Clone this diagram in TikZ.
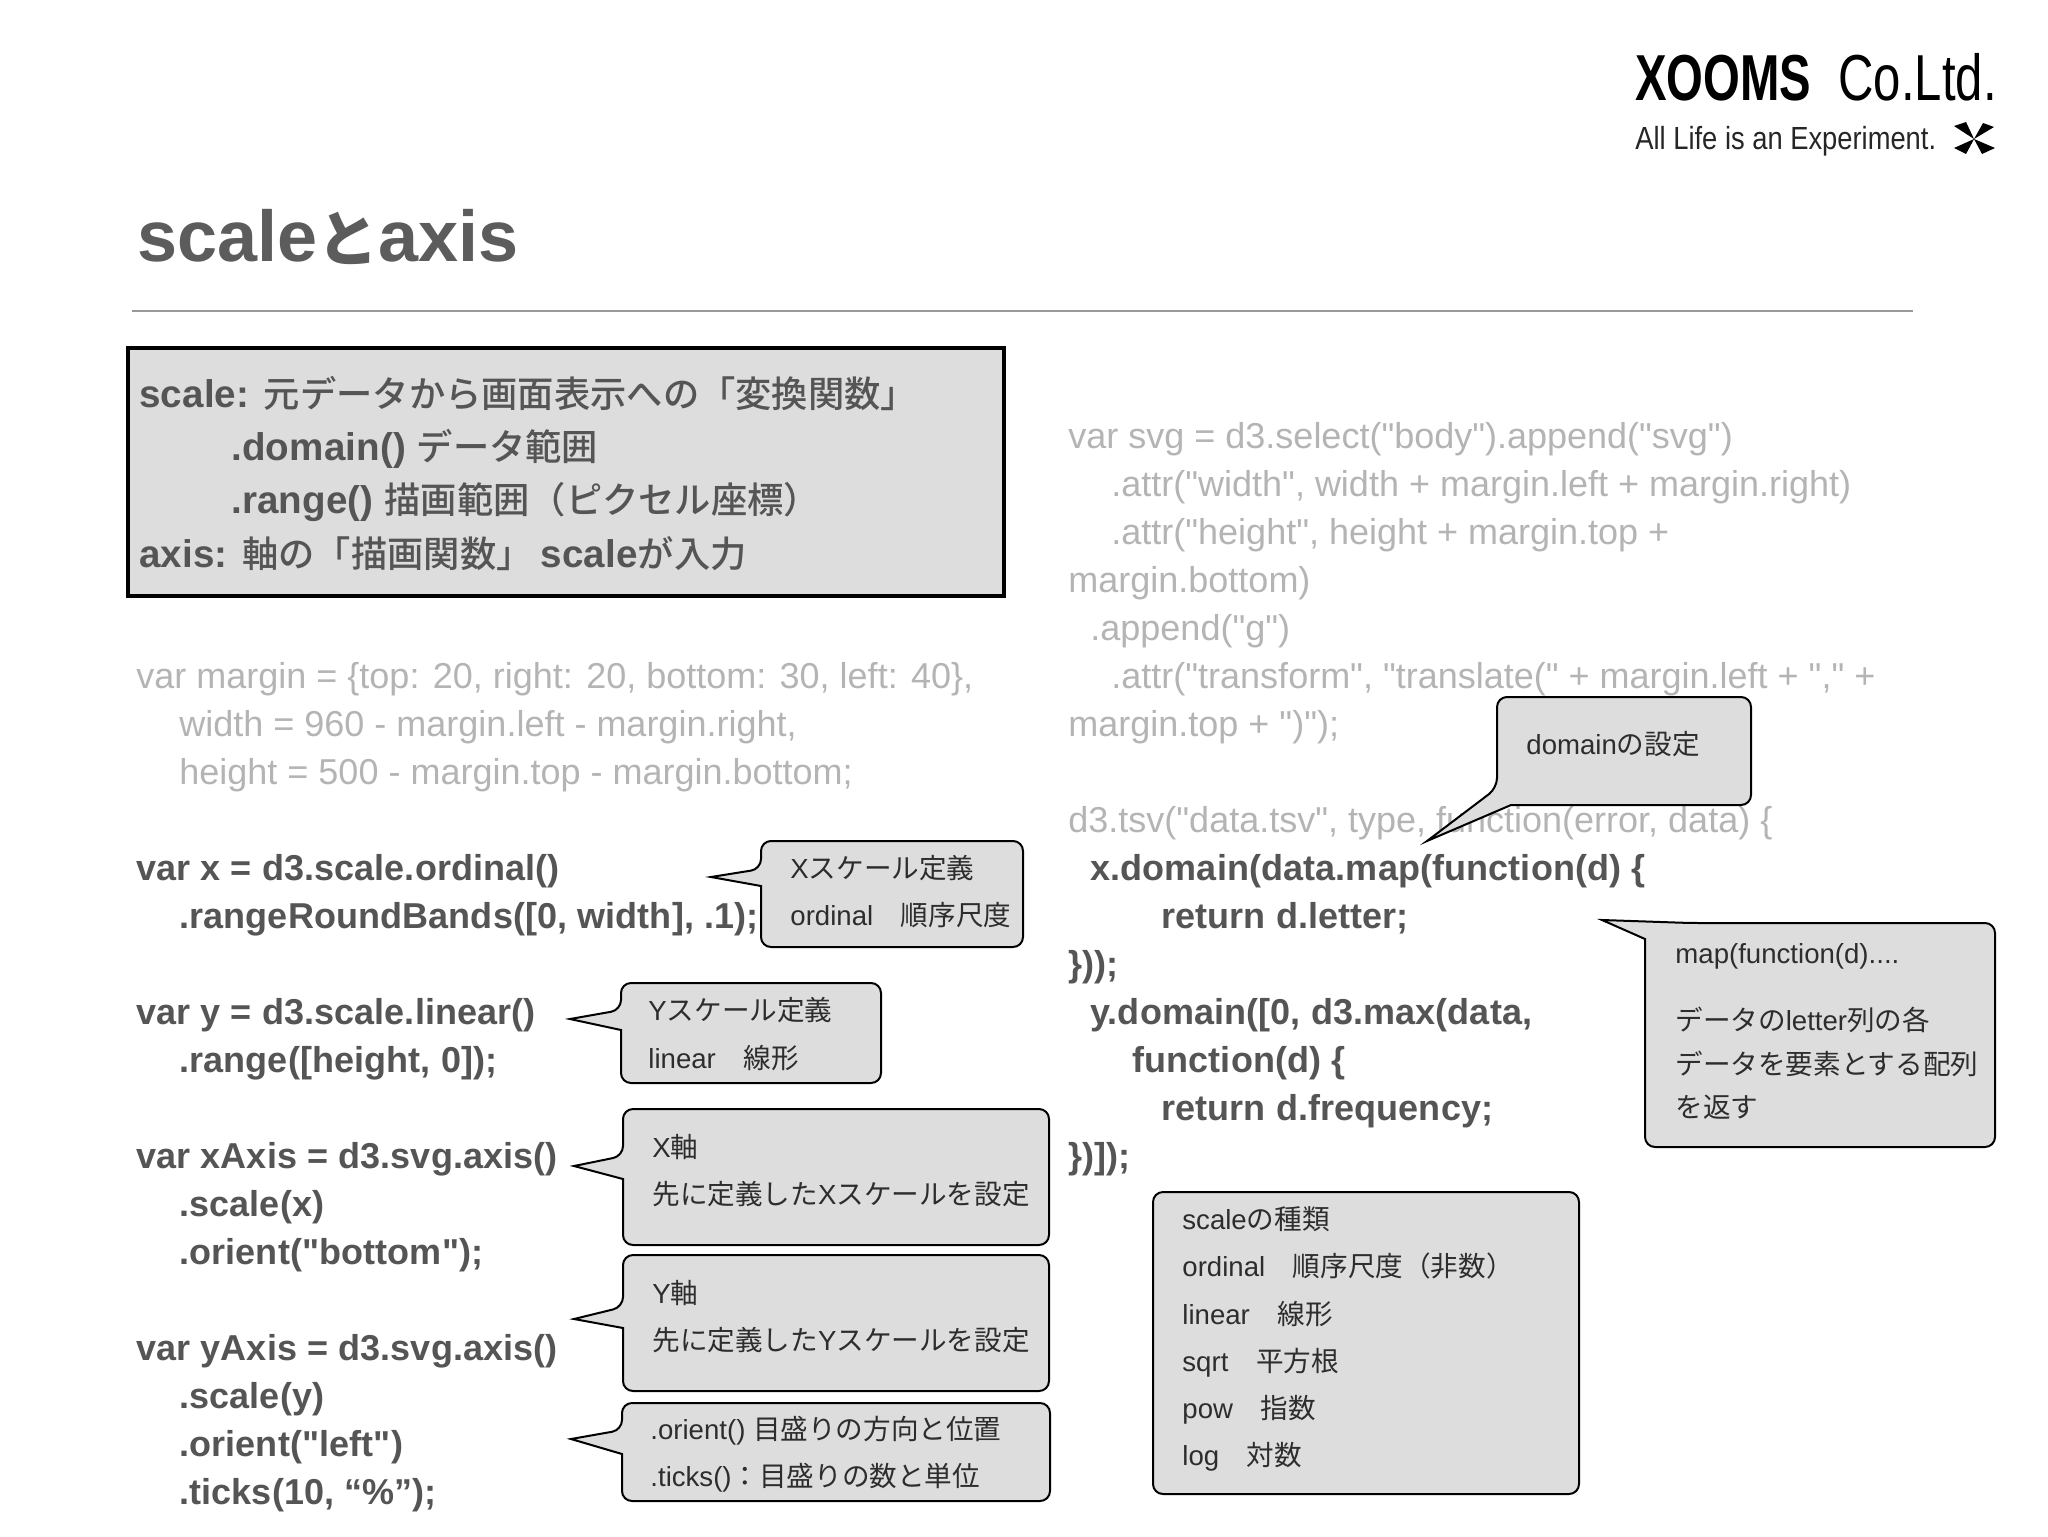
\documentclass[tikz,border=0pt]{standalone}
\usepackage{fontspec}
\setmainfont{Liberation Sans}
\newfontfamily\jp{Noto Sans CJK JP}
\newfontfamily\jpmid[Scale=0.94]{Noto Sans CJK JP Medium}
\newfontfamily\latmid[UprightFont={* Bold},LetterSpace=0.3]{Liberation Sans}
\newfontfamily\latlight{Liberation Sans}
\newfontfamily\logobold[UprightFont={* Bold},FakeStretch=0.7275]{Liberation Sans}
\newfontfamily\logothin[FakeStretch=0.755]{Liberation Sans}
\newfontfamily\logosub[FakeStretch=0.854]{Liberation Sans}
\newcommand{\J}[1]{{\jp #1}}
\newcommand{\Jm}[1]{{\jpmid #1}}
\definecolor{Xooms-dark}{RGB}{85, 85, 85}
\definecolor{Xooms-title}{RGB}{92, 92, 92}
\definecolor{Xooms-light}{RGB}{180, 180, 180}
\definecolor{Xooms-box}{RGB}{221, 221, 221}
\definecolor{Xooms-note}{RGB}{45, 45, 45}

\begin{document}
\begin{tikzpicture} [ % styles for each kind of text
        x=0.5pt, y=-0.5pt,
        txt/.style = {anchor=base west, inner sep=0pt},
        code/.style = {txt, text=Xooms-dark, font=\latmid\fontsize{18pt}{24pt}\selectfont},
        code-light/.style = {txt, text=Xooms-light, font=\latlight\fontsize{18pt}{24pt}\selectfont},
        summ/.style = {txt, text=Xooms-dark, font=\latmid\fontsize{19.3pt}{24pt}\selectfont},
        note/.style = {txt, text=Xooms-note, font=\fontsize{13.8pt}{20pt}\selectfont},
        notebox/.style = {draw=black, fill=Xooms-box, line width=1pt, line join=miter, rounded corners=5pt}
    ]
    \useasboundingbox (0,0) rectangle (2048,1536);

    % logo
    \node [txt, font=\logobold\fontsize{32.5pt}{36pt}\selectfont] (logo-a) at (1635,100) {XOOMS};
    \node [txt, font=\logothin\fontsize{32.5pt}{36pt}\selectfont] (logo-b) at (1838,100) {Co.Ltd.};
    \node [txt, text=black!85, font=\logosub\fontsize{16pt}{18pt}\selectfont] (logo-c) at (1635,149) {All Life is an Experiment.};
    \fill (1974,139) -- (1954,126) -- (1966,122) -- cycle;
    \fill (1974,139) -- (1983,123) -- (1994,127) -- cycle;
    \fill (1974,139) -- (1954,148) -- (1966,154) -- cycle;
    \fill (1974,139) -- (1982,154) -- (1995,148) -- cycle;

    % title
    \node [txt, text=Xooms-title, font=\bfseries\fontsize{36pt}{40pt}\selectfont] (title) at (137,261) {scale{\jp\bfseries\fontsize{30.5pt}{40pt}\selectfont と}axis};
    \draw [gray!80, line width=1pt] (132,311) -- (1913,311);

    % summary box
    \node [draw=black, fill=Xooms-box, line width=2pt, minimum width=438pt, minimum height=124pt, anchor=north west, inner sep=0pt] (summary) at (126,346) {};
    \node [summ] (sum1) at (139,407) {scale: \Jm{元データから画面表示への「変換関数」}};
    \node [summ] (sum2) at (231,460) {.domain() \Jm{データ範囲}};
    \node [summ] (sum3) at (231,513) {.range() \Jm{描画範囲（ピクセル座標）}};
    \node [summ] (sum4) at (139,567) {axis: \Jm{軸の「描画関数」 }scale\Jm{が入力}};

    % left code
    \node [code-light] (l1) at (136,688) {var margin = \{top: 20, right: 20, bottom: 30, left: 40\},};
    \node [code-light] (l2) at (179,736) {width = 960 - margin.left - margin.right,};
    \node [code-light] (l3) at (179,784) {height = 500 - margin.top - margin.bottom;};

    \node [code] (l4) at (136,880) {var x = d3.scale.ordinal()};
    \node [code] (l5) at (179,928) {.rangeRoundBands([0, width], .1);};

    \node [code] (l6) at (136,1024) {var y = d3.scale.linear()};
    \node [code] (l7) at (179,1072) {.range([height, 0]);};

    \node [code] (l8) at (136,1168) {var xAxis = d3.svg.axis()};
    \node [code] (l9) at (179,1216) {.scale(x)};
    \node [code] (l10) at (179,1264) {.orient("bottom");};

    \node [code] (l11) at (136,1360) {var yAxis = d3.svg.axis()};
    \node [code] (l12) at (179,1408) {.scale(y)};
    \node [code] (l13) at (179,1456) {.orient("left")};
    \node [code] (l14) at (179,1504) {.ticks(10, “\%”);};

    % right code
    \node [code-light] (r1) at (1068,448) {var svg = d3.select("body").append("svg")};
    \node [code-light] (r2) at (1111,496) {.attr("width", width + margin.left + margin.right)};
    \node [code-light] (r3) at (1111,544) {.attr("height", height + margin.top +};
    \node [code-light] (r4) at (1068,592) {margin.bottom)};
    \node [code-light] (r5) at (1090,640) {.append("g")};
    \node [code-light] (r6) at (1111,688) {.attr("transform", "translate(" + margin.left + "," +};
    \node [code-light] (r7) at (1068,736) {margin.top + ")");};
    \node [code-light] (r8) at (1068,832) {d3.tsv("data.tsv", type, function(error, data) \{};

    \node [code] (r9) at (1090,880) {x.domain(data.map(function(d) \{};
    \node [code] (r10) at (1161,928) {return d.letter;};
    \node [code] (r11) at (1068,976) {\}));};
    \node [code] (r12) at (1090,1024) {y.domain([0, d3.max(data,};
    \node [code] (r13) at (1132,1072) {function(d) \{};
    \node [code] (r14) at (1161,1120) {return d.frequency;};
    \node [code] (r15) at (1068,1168) {\})]);};

    % callouts
    \draw [notebox] (761,869) [sharp corners] -- (711,877) -- (761,886) [rounded corners=5pt] -- (761,947) -- (1023,947) -- (1023,841) -- (761,841) -- cycle;
    \node [note] (xs1) at (790,878) {X\J{スケール定義}};
    \node [note] (xs2) at (790,925) {ordinal\J{　順序尺度}};

    \draw [notebox] (621,1010) [sharp corners] -- (570,1019) -- (621,1030) [rounded corners=5pt] -- (621,1083) -- (881,1083) -- (881,983) -- (621,983) -- cycle;
    \node [note] (ys1) at (648,1020) {Y\J{スケール定義}};
    \node [note] (ys2) at (648,1068) {linear\J{　線形}};

    \draw [notebox] (623,1156) [sharp corners] -- (574,1166) -- (623,1179) [rounded corners=5pt] -- (623,1245) -- (1049,1245) -- (1049,1109) -- (623,1109) -- cycle;
    \node [note] (xa1) at (652,1157) {X\J{軸}};
    \node [note] (xa2) at (652,1204) {\J{先に定義した}X\J{スケールを設定}};

    \draw [notebox] (623,1307) [sharp corners] -- (574,1319) -- (623,1328) [rounded corners=5pt] -- (623,1391) -- (1049,1391) -- (1049,1255) -- (623,1255) -- cycle;
    \node [note] (ya1) at (652,1303) {Y\J{軸}};
    \node [note] (ya2) at (652,1350) {\J{先に定義した}Y\J{スケールを設定}};

    \draw [notebox] (622,1430) [sharp corners] -- (571,1439) -- (622,1454) [rounded corners=5pt] -- (622,1501) -- (1050,1501) -- (1050,1403) -- (622,1403) -- cycle;
    \node [note] (or1) at (650,1439) {.orient() \J{目盛りの方向と位置}};
    \node [note] (or2) at (650,1486) {.ticks()\J{：目盛りの数と単位}};

    \draw [notebox] (1497,788) [sharp corners] -- (1427,841) -- (1511,805) [rounded corners=5pt] -- (1751,805) -- (1751,697) -- (1497,697) -- cycle;
    \node [note] (dm1) at (1526,754) {domain\J{の設定}};

    \draw [notebox] (1690,923) [sharp corners] -- (1602,920) -- (1645,939) [rounded corners=5pt] -- (1645,1147) -- (1995,1147) -- (1995,923) -- cycle;
    \node [note] (mp1) at (1675,963) {map(function(d)....};
    \node [note] (mp2) at (1675,1030) {\J{データの}letter\J{列の各}};
    \node [note] (mp3) at (1675,1074) {\J{データを要素とする配列}};
    \node [note] (mp4) at (1675,1117) {\J{を返す}};

    \draw [notebox] (1153,1192) rectangle (1579,1494);
    \node [note] (ty1) at (1182,1229) {scale\J{の種類}};
    \node [note] (ty2) at (1182,1276) {ordinal\J{　順序尺度（非数）}};
    \node [note] (ty3) at (1182,1324) {linear\J{　線形}};
    \node [note] (ty4) at (1182,1371) {sqrt\J{　平方根}};
    \node [note] (ty5) at (1182,1418) {pow\J{　指数}};
    \node [note] (ty6) at (1182,1465) {log\J{　対数}};
\end{tikzpicture}
\end{document}
